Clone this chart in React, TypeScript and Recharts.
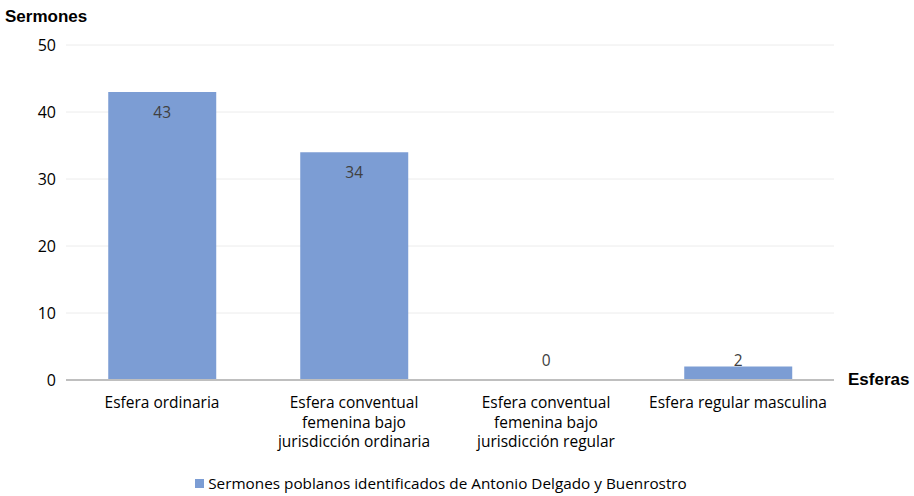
import React from 'react';
import { BarChart, Bar, XAxis, YAxis, CartesianGrid, Legend, LabelList, Rectangle } from 'recharts';

const categories = [
  'Esfera ordinaria',
  'Esfera conventual\nfemenina bajo\njurisdicción ordinaria',
  'Esfera conventual\nfemenina bajo\njurisdicción regular',
  'Esfera regular masculina',
];
const sermones = [43, 34, 0, 2];
const yTicks = [0, 10, 20, 30, 40, 50];
const seriesName = 'Sermones poblanos identificados de Antonio Delgado y Buenrostro';

const data = categories.map((name, i) => ({ name, value: sermones[i] }));

const FONT = '"Open Sans", "Noto Sans", sans-serif';
const TITLE_FONT = '"Liberation Sans", Arial, sans-serif';
const BLUE = '#7c9dd4';
const ZERO_Y = 380;

function CategoryTick(props: any) {
  const { x, y, payload } = props;
  const lines = String(payload.value).split('\n');
  return (
    <text x={x} y={y + 20} textAnchor="middle" fontFamily={FONT} fontSize={15.5} fill="#000">
      {lines.map((l: string, i: number) => (
        <tspan key={i} x={x} dy={i === 0 ? 0 : 19.5}>
          {l}
        </tspan>
      ))}
    </text>
  );
}

function BarShape(props: any) {
  if (!props.value) return null;
  return <Rectangle {...props} />;
}

function ValueLabel(props: any) {
  const { x, y, width, value } = props;
  const base = Math.min(y + 26, ZERO_Y - 14);
  return (
    <text x={x + width / 2} y={base} textAnchor="middle" fontFamily={FONT} fontSize={15.5} fill="#404040">
      {value}
    </text>
  );
}

function LegendContent() {
  return (
    <div style={{ display: 'flex', justifyContent: 'center', alignItems: 'center', fontFamily: FONT, fontSize: 15.3, color: '#000', height: 20, marginLeft: 42 }}>
      <span style={{ display: 'inline-block', width: 9, height: 9, background: BLUE, marginRight: 4 }} />
      <span>{seriesName}</span>
    </div>
  );
}

export default function App() {
  return (
    <div style={{ position: 'absolute', left: 0, top: 0, width: 914, height: 496, background: '#fff' }}>
      <BarChart width={914} height={496} data={data} margin={{ top: 45, right: 80, bottom: 66, left: 6 }} barCategoryGap="22%">
        <CartesianGrid vertical={false} stroke="#ececec" />
        <XAxis
          dataKey="name"
          tick={<CategoryTick />}
          tickLine={false}
          axisLine={{ stroke: '#bfbfbf', strokeWidth: 2 }}
          interval={0}
          height={30}
        />
        <YAxis
          domain={[0, 50]}
          ticks={yTicks}
          width={60}
          tickLine={false}
          axisLine={false}
          tick={{ fontFamily: FONT, fontSize: 16, fill: '#000' }}
          tickMargin={4}
        />
        <Legend verticalAlign="bottom" wrapperStyle={{ bottom: 3 }} content={<LegendContent />} />
        <Bar dataKey="value" name={seriesName} fill={BLUE} minPointSize={1} shape={<BarShape />} isAnimationActive={false}>
          <LabelList dataKey="value" content={<ValueLabel />} />
        </Bar>
        <text x={5} y={22} fontFamily={TITLE_FONT} fontSize={17} fontWeight="bold" fill="#000">
          Sermones
        </text>
        <text x={848} y={385} fontFamily={TITLE_FONT} fontSize={17} fontWeight="bold" fill="#000">
          Esferas
        </text>
      </BarChart>
    </div>
  );
}
